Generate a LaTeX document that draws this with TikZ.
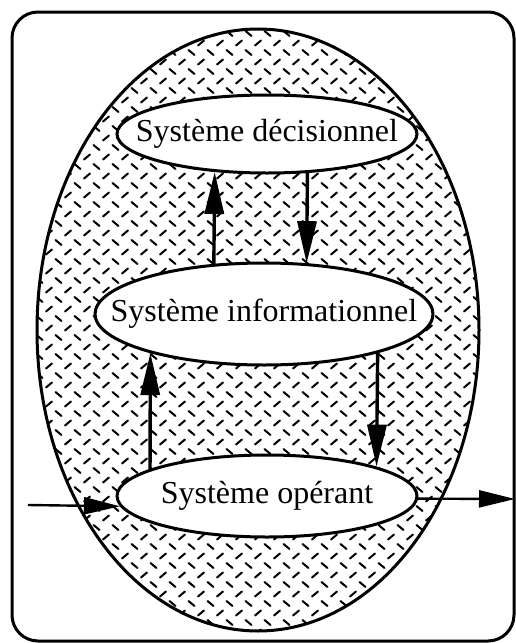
\documentclass[tikz,border=0pt]{standalone}
\usepackage{fontspec}
\newfontfamily\sysfont{Liberation Serif}
\usetikzlibrary{shapes.geometric,arrows.meta}

\tikzset{
  sysbox/.style={ellipse, draw, line width=3pt, fill=white, inner sep=0pt,
                 font={\sysfont\fontsize{32}{38}\selectfont}},
  flow/.style={line width=3.4pt, -{Triangle[length=42pt,width=19pt]}},
  ioflow/.style={line width=2.4pt, -{Triangle[length=36pt,width=17pt]}},
  hatch/.style={line width=2pt, line cap=round},
  frame/.style={line width=3pt, rounded corners=26pt},
  envelope/.style={line width=3pt}
}
% text of an ellipse, kept from widening the ellipse itself
\newcommand\systext[1]{\makebox[0pt]{#1}}

\begin{document}
\begin{tikzpicture}[x=1pt, y=-1pt]
  \useasboundingbox (0,0) rectangle (515,643);

  % outer frame
  \draw[frame] (12,12) rectangle (514,641);

  % hatched envelope of the organisation
  \begin{scope}
    \clip (258,330) ellipse [x radius=221, y radius=301];
    \foreach \i [evaluate=\i as \x using 30+19*\i] in {0,...,24} {
      \foreach \j [evaluate=\j as \y using 24+19*\j] in {0,...,32} {
        \draw[hatch] (\x-3,\y+2.5) -- (\x+3,\y-2.5);
        \draw[hatch] (\x+9.5-3,\y+9.5-2.5) -- (\x+9.5+3,\y+9.5+2.5);
      }
    }
  \end{scope}
  \draw[envelope] (258,330) ellipse [x radius=221, y radius=301];

  % the three subsystems
  \node[sysbox, minimum width=300pt, minimum height=78pt]  (dec) at (267,134) {\systext{Système décisionnel}};
  \node[sysbox, minimum width=338pt, minimum height=102pt] (inf) at (264,314) {\systext{Système informationnel}};
  \node[sysbox, minimum width=300pt, minimum height=82pt]  (op)  at (267,496) {\systext{Système opérant}};

  % exchanges between subsystems
  \draw[flow] (inf.135.1) -- (dec.-144.9);
  \draw[flow] (dec.-44.8) -- (inf.50.4);
  \draw[flow] (op.167.1)  -- (inf.-161.2);
  \draw[flow] (inf.-19.7) -- (op.15.3);

  % input and output of the operating system
  \coordinate (in)  at (28,505);
  \coordinate (out) at (515,499);
  \draw[ioflow] (in) -- (op.-176.5);
  \draw[ioflow] (op.-1.2) -- (out);
\end{tikzpicture}
\end{document}
